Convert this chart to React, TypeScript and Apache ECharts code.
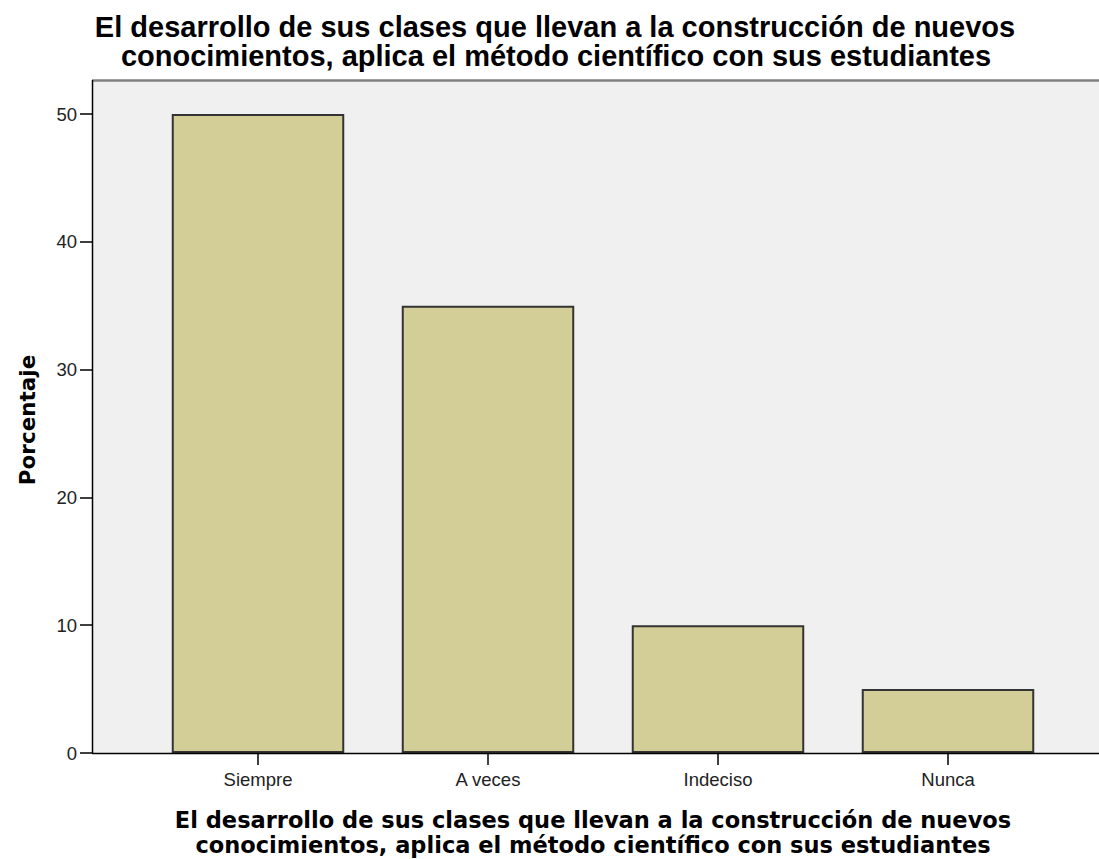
import React, { useEffect, useRef } from "react";
import * as echarts from "echarts";

const categories = ["Siempre", "A veces", "Indeciso", "Nunca"];
const values = [50, 35, 10, 5];
const yTicks = [0, 10, 20, 30, 40, 50];
const titleLines = [
  "El desarrollo de sus clases que llevan a la construcción de nuevos",
  "conocimientos, aplica el método científico con sus estudiantes",
];
const yName = "Porcentaje";

export default function App() {
  const ref = useRef<HTMLDivElement>(null);
  useEffect(() => {
    const chart = echarts.init(ref.current!, null, { renderer: "svg" });
    chart.setOption({
      animation: false,
      backgroundColor: "#ffffff",
      grid: { left: 143, right: 36, top: 114, bottom: 106, containLabel: false },
      xAxis: {
        type: "category",
        data: categories,
        boundaryGap: true,
        axisLine: { show: false },
        axisTick: { show: true, alignWithLabel: true, length: 12, lineStyle: { color: "#000", width: 1.5 } },
        axisLabel: { color: "#222", fontSize: 18.5, fontFamily: "Liberation Sans, Arial, sans-serif", margin: 17 },
      },
      yAxis: {
        type: "value",
        min: yTicks[0],
        max: yTicks[yTicks.length - 1],
        interval: 10,
        offset: 51,
        axisLine: { show: false },
        axisTick: { show: true, length: 12, lineStyle: { color: "#000", width: 1.5 } },
        axisLabel: { color: "#222", fontSize: 18.5, fontFamily: "Liberation Sans, Arial, sans-serif", margin: 15 },
        splitLine: { show: false },
      },
      series: [
        {
          type: "bar",
          data: values,
          barWidth: "75%",
          itemStyle: { color: "#d3ce97", borderColor: "#333", borderWidth: 2 },
          z: 2,
        },
      ],
      graphic: [
        { type: "rect", z: -10, shape: { x: 92, y: 80, width: 1007, height: 673 }, style: { fill: "#f0f0f0" } },
        { type: "line", z: 10, shape: { x1: 92, y1: 80.5, x2: 1099, y2: 80.5 }, style: { stroke: "#808080", lineWidth: 2.5 } },
        { type: "line", z: 10, shape: { x1: 92.5, y1: 80, x2: 92.5, y2: 754 }, style: { stroke: "#000", lineWidth: 1.5 } },
        { type: "line", z: 10, shape: { x1: 92, y1: 753.5, x2: 1099, y2: 753.5 }, style: { stroke: "#000", lineWidth: 1.5 } },
        {
          type: "text",
          x: 555,
          y: 27,
          style: {
            text: titleLines[0],
            fill: "#000",
            font: "bold 29px 'Liberation Sans', Arial, sans-serif",
            lineHeight: 28,
            align: "center",
            verticalAlign: "middle",
          },
        },
        {
          type: "text",
          x: 556,
          y: 56,
          style: {
            text: titleLines[1],
            fill: "#000",
            font: "bold 29px 'Liberation Sans', Arial, sans-serif",
            lineHeight: 28,
            align: "center",
            verticalAlign: "middle",
          },
        },
        {
          type: "text",
          x: 593,
          y: 820,
          style: {
            text: titleLines[0],
            fill: "#000",
            font: "bold 22.5px 'DejaVu Sans', sans-serif",
            align: "center",
            verticalAlign: "middle",
          },
        },
        {
          type: "text",
          x: 593,
          y: 845,
          style: {
            text: titleLines[1],
            fill: "#000",
            font: "bold 22.5px 'DejaVu Sans', sans-serif",
            align: "center",
            verticalAlign: "middle",
          },
        },
        {
          type: "text",
          x: 27,
          y: 420,
          rotation: Math.PI / 2,
          style: {
            text: yName,
            fill: "#000",
            font: "bold 21.5px 'DejaVu Sans', sans-serif",
            align: "center",
            verticalAlign: "middle",
          },
        },
      ],
    });
    return () => chart.dispose();
  }, []);
  return <div ref={ref} style={{ width: 1099, height: 859, position: "absolute", left: 0, top: 0 }} />;
}
